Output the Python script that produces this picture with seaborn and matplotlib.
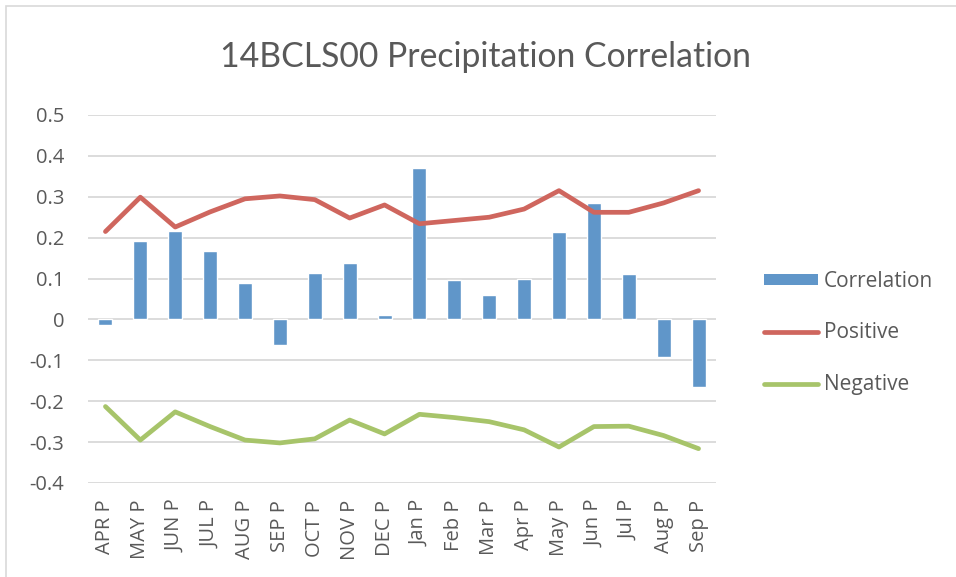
import matplotlib
matplotlib.use("Agg")
import matplotlib.pyplot as plt
import seaborn as sns
import numpy as np
import pandas as pd
from matplotlib.patches import Patch, Rectangle
from matplotlib.lines import Line2D

categories = ["APR P", "MAY P", "JUN P", "JUL P", "AUG P", "SEP P", "OCT P", "NOV P", "DEC P",
              "Jan P", "Feb P", "Mar P", "Apr P", "May P", "Jun P", "Jul P", "Aug P", "Sep P"]
correlation = [-0.014, 0.192, 0.217, 0.168, 0.088, -0.063, 0.114, 0.137, 0.012,
               0.370, 0.097, 0.059, 0.098, 0.214, 0.285, 0.111, -0.093, -0.165]
positive = [0.215, 0.299, 0.226, 0.263, 0.295, 0.302, 0.293, 0.248, 0.280,
            0.234, 0.242, 0.250, 0.270, 0.315, 0.262, 0.262, 0.285, 0.315]
negative = [-0.213, -0.295, -0.226, -0.262, -0.295, -0.302, -0.292, -0.246, -0.280,
            -0.232, -0.240, -0.250, -0.270, -0.312, -0.262, -0.261, -0.284, -0.316]
yticks = [0.5, 0.4, 0.3, 0.2, 0.1, 0, -0.1, -0.2, -0.3, -0.4]
ytick_labels = ["0.5", "0.4", "0.3", "0.2", "0.1", "0", "-0.1", "-0.2", "-0.3", "-0.4"]

BLUE = "#6096C9"
RED = "#CF665E"
GREEN = "#A7C46A"
TXT = "#595959"

sns.set_theme(style="white")
plt.rcParams["font.family"] = ["Open Sans", "DejaVu Sans"]

df = pd.DataFrame({"cat": categories, "corr": correlation,
                   "pos": positive, "neg": negative, "idx": np.arange(len(categories))})

fig = plt.figure(figsize=(9.56, 5.77), dpi=100)
ax = fig.add_axes([88/956, 1-483/577, (716-88)/956, (483-115)/577])

for y in yticks:
    ax.axhline(y, color="#D9D9D9", lw=1.3, zorder=0)

sns.barplot(data=df, x="cat", y="corr", color=BLUE, width=0.4, ax=ax,
            saturation=1, zorder=2, order=categories)
sns.lineplot(data=df, x="idx", y="pos", color=RED, lw=3.4, ax=ax, zorder=3)
sns.lineplot(data=df, x="idx", y="neg", color=GREEN, lw=3.4, ax=ax, zorder=3)

ax.set_xlim(-0.5, len(categories) - 0.5)
ax.set_ylim(-0.4, 0.5)
ax.set_yticks(yticks)
ax.set_yticklabels(ytick_labels)
ax.set_xticks(range(len(categories)))
ax.set_xticklabels(categories, rotation=90)
ax.tick_params(axis="both", length=0, labelsize=14.5, colors=TXT)
ax.tick_params(axis="y", pad=17)
ax.tick_params(axis="x", pad=12)
ax.set_xlabel("")
ax.set_ylabel("")
for s in ax.spines.values():
    s.set_visible(False)

fig.text(0.508, 1-57/577, "14BCLS00 Precipitation Correlation", ha="center", va="center",
         fontsize=24.3, color=TXT, family=["Lato", "DejaVu Sans"])

handles = [Patch(facecolor=BLUE, edgecolor="none"),
           Line2D([0], [0], color=RED, lw=3.4, solid_capstyle="round"),
           Line2D([0], [0], color=GREEN, lw=3.4, solid_capstyle="round")]
leg = fig.legend(handles, ["Correlation", "Positive", "Negative"], loc="center left",
                 bbox_to_anchor=(745/956, 1-333/577), frameon=False, fontsize=15,
                 handlelength=2.6, handleheight=0.45, handletextpad=0.28, labelspacing=1.47,
                 labelcolor=TXT)

fig.patches.append(Rectangle((6/956, -0.1), 2, 1.1 - 6/577, transform=fig.transFigure,
                             fill=False, edgecolor="#D9D9D9", lw=1.2))

fig.savefig("out.png", dpi=100, facecolor="white")
